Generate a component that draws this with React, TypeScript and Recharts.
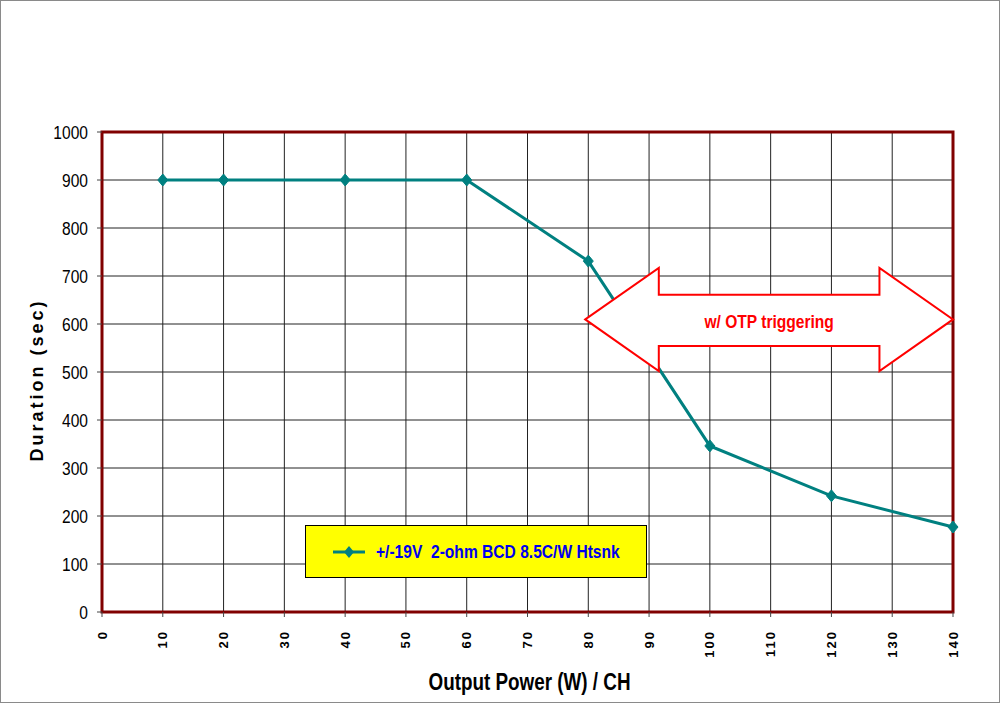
import React from "react"
import {
  LineChart,
  Line,
  XAxis,
  YAxis,
  CartesianGrid,
  ReferenceArea,
  Legend,
} from "recharts"

const powers = [10, 20, 40, 60, 80, 100, 120, 140]
const durations = [900, 900, 900, 900, 731, 346, 242, 177]
const xTicks = [0, 10, 20, 30, 40, 50, 60, 70, 80, 90, 100, 110, 120, 130, 140]
const yTicks = [0, 100, 200, 300, 400, 500, 600, 700, 800, 900, 1000]
const seriesName = "+/-19V  2-ohm BCD 8.5C/W Htsnk"
const annotationText = "w/ OTP triggering"
const xTitle = "Output Power (W) / CH"
const yTitle = "Duration (sec)"
const arrowX = [79.5, 140]
const arrowY = [502, 717]

const data = powers.map((p, i) => ({ power: p, duration: durations[i] }))

const FONT = "'Liberation Sans', Arial, sans-serif"
const SQUEEZE = 0.82 // narrow-arial look
const TEAL = "#008080"

// text squeezed horizontally around its anchor point
const NarrowText = ({ x, y, anchor = "middle", size, bold, color = "#000", children }: any) => (
  <g transform={`translate(${x}, ${y}) scale(${SQUEEZE}, 1)`}>
    <text
      x={0}
      y={0}
      textAnchor={anchor}
      dominantBaseline="central"
      fontFamily={FONT}
      fontWeight={bold ? "bold" : "normal"}
      fontSize={size}
      fill={color}
    >
      {children}
    </text>
  </g>
)

const Diamond = (props: any) => {
  const { cx, cy } = props
  if (cx == null || cy == null) return null
  return (
    <polygon
      points={`${cx},${cy - 6} ${cx + 5},${cy} ${cx},${cy + 6} ${cx - 5},${cy}`}
      fill={TEAL}
      stroke={TEAL}
    />
  )
}

const XTick = (props: any) => {
  const { x, y, payload } = props
  return (
    <text
      x={x}
      y={y}
      transform={`rotate(-90, ${x}, ${y})`}
      textAnchor="end"
      dominantBaseline="central"
      fontFamily={FONT}
      fontWeight="bold"
      fontSize={13}
      letterSpacing={2}
      fill="#000"
    >
      {payload.value}
    </text>
  )
}

const YTick = (props: any) => {
  const { x, y, payload } = props
  return (
    <NarrowText x={x} y={y} anchor="end" size={19}>
      {payload.value}
    </NarrowText>
  )
}

// double headed arrow drawn inside the reference area box
const ArrowShape = (props: any) => {
  const { x, y, width, height } = props
  const head = width * 0.2
  const top = y + height * 0.26
  const bot = y + height * 0.757
  const mid = y + height * 0.5
  const pts = [
    [x, mid],
    [x + head, y],
    [x + head, top],
    [x + width - head, top],
    [x + width - head, y],
    [x + width, mid],
    [x + width - head, y + height],
    [x + width - head, bot],
    [x + head, bot],
    [x + head, y + height],
  ]
    .map((p) => p.join(","))
    .join(" ")
  return (
    <g>
      <polygon points={pts} fill="#fff" stroke="#ff0000" strokeWidth={2} />
      <NarrowText x={x + width / 2} y={mid + 2} size={19} bold color="#ff0000">
        {annotationText}
      </NarrowText>
    </g>
  )
}

const YLabel = (props: any) => {
  const { viewBox } = props
  const cx = 37
  const cy = viewBox.y + viewBox.height / 2 + 8
  return (
    <text
      x={cx}
      y={cy}
      transform={`rotate(-90, ${cx}, ${cy})`}
      textAnchor="middle"
      dominantBaseline="central"
      fontFamily={FONT}
      fontWeight="bold"
      fontSize={18}
      letterSpacing={3}
      fill="#000"
    >
      {yTitle}
    </text>
  )
}

const XLabel = (props: any) => {
  const { viewBox } = props
  return (
    <NarrowText
      x={viewBox.x + viewBox.width / 2 + 2}
      y={viewBox.y + viewBox.height - 23}
      size={23}
      bold
    >
      {xTitle}
    </NarrowText>
  )
}

const LegendBox = (props: any) => {
  const name = props.payload?.[0]?.value ?? seriesName
  return (
    <div
      style={{
        width: 342,
        height: 53,
        boxSizing: "border-box",
        background: "#ffff00",
        border: "1px solid #000",
        display: "flex",
        alignItems: "center",
        paddingLeft: 27,
        fontFamily: FONT,
        overflow: "visible",
      }}
    >
      <svg width={34} height={14} style={{ marginRight: 9, flexShrink: 0 }}>
        <line x1={0} y1={7} x2={32} y2={7} stroke={TEAL} strokeWidth={3} />
        <polygon points="16,1 21,7 16,13 11,7" fill={TEAL} />
      </svg>
      <span
        style={{
          whiteSpace: "pre",
          color: "#0000ee",
          fontWeight: "bold",
          fontSize: 19,
          display: "inline-block",
          flexShrink: 0,
          transform: `scaleX(${SQUEEZE})`,
          transformOrigin: "left center",
        }}
      >
        {name}
      </span>
    </div>
  )
}

export default function App() {
  return (
    <div
      style={{
        position: "absolute",
        left: 0,
        top: 0,
        width: 1001,
        height: 705,
        background: "#fff",
      }}
    >
      <div
        style={{
          position: "absolute",
          left: 0,
          top: 0,
          width: 1000,
          height: 703,
          border: "1px solid #8a8a8a",
          boxSizing: "border-box",
          pointerEvents: "none",
        }}
      />
      <LineChart
        width={1001}
        height={705}
        data={data}
        margin={{ top: 132, right: 48, left: 42, bottom: 0 }}
      >
        <CartesianGrid stroke="#222" strokeWidth={1} />
        <XAxis
          type="number"
          dataKey="power"
          domain={[0, 140]}
          ticks={xTicks}
          height={93}
          axisLine={false}
          tickSize={5}
          tickMargin={13}
          tickLine={{ stroke: "#444" }}
          tick={<XTick />}
          label={<XLabel />}
        />
        <YAxis
          type="number"
          domain={[0, 1000]}
          ticks={yTicks}
          width={60}
          axisLine={false}
          tickSize={5}
          tickMargin={9}
          tickLine={{ stroke: "#444" }}
          tick={<YTick />}
          label={<YLabel />}
        />
        <ReferenceArea
          x1={0}
          x2={140}
          y1={0}
          y2={1000}
          fill="none"
          fillOpacity={0}
          stroke="#800000"
          strokeWidth={3}
        />
        <Line
          type="linear"
          dataKey="duration"
          name={seriesName}
          stroke={TEAL}
          strokeWidth={3}
          dot={<Diamond />}
          activeDot={false}
          isAnimationActive={false}
        />
        <ReferenceArea
          x1={arrowX[0]}
          x2={arrowX[1]}
          y1={arrowY[0]}
          y2={arrowY[1]}
          shape={<ArrowShape />}
          zIndex={1500}
        />
        <Legend
          layout="horizontal"
          verticalAlign="middle"
          align="center"
          content={<LegendBox />}
          wrapperStyle={{ left: 305, top: 525, width: 342, height: 53 }}
        />
      </LineChart>
    </div>
  )
}
